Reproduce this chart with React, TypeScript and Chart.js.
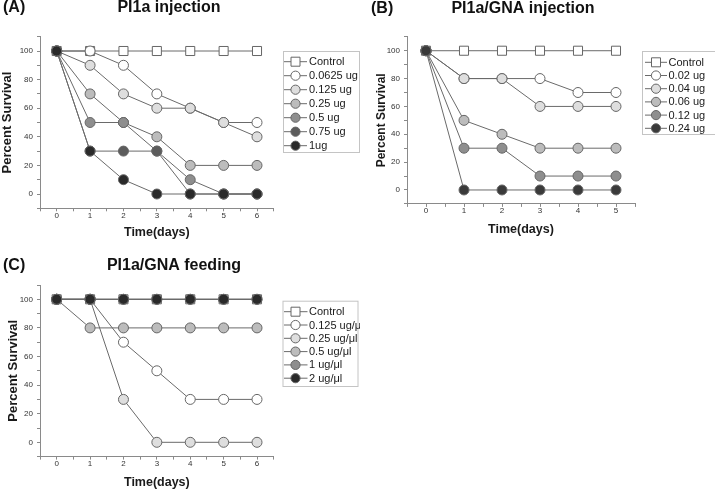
import React, { useEffect, useRef } from 'react';
import { Chart, registerables } from 'chart.js';

Chart.register(...registerables);
Chart.defaults.font.family = '"Liberation Sans", Arial, sans-serif';

// ---------- DATA ----------
// Panel A: PI1a injection
const daysA = [0, 1, 2, 3, 4, 5, 6];
const namesA = ['Control', '0.0625 ug', '0.125 ug', '0.25 ug', '0.5 ug', '0.75 ug', '1ug'];
const aControl = [100, 100, 100, 100, 100, 100, 100];
const a00625 = [100, 100, 90, 70, 60, 50, 50];
const a0125 = [100, 90, 70, 60, 60, 50, 40];
const a025 = [100, 70, 50, 40, 20, 20, 20];
const a05 = [100, 50, 50, 30, 10, 0, 0];
const a075 = [100, 30, 30, 30, 0, 0, 0];
const a1 = [100, 30, 10, 0, 0, 0, 0];

// Panel B: PI1a/GNA injection
const daysB = [0, 1, 2, 3, 4, 5];
const namesB = ['Control', '0.02 ug', '0.04 ug', '0.06 ug', '0.12 ug', '0.24 ug'];
const bControl = [100, 100, 100, 100, 100, 100];
const b002 = [100, 80, 80, 80, 70, 70];
const b004 = [100, 80, 80, 60, 60, 60];
const b006 = [100, 50, 40, 30, 30, 30];
const b012 = [100, 30, 30, 10, 10, 10];
const b024 = [100, 0, 0, 0, 0, 0];

// Panel C: PI1a/GNA feeding
const daysC = [0, 1, 2, 3, 4, 5, 6];
const namesC = ['Control', '0.125 ug/μl', '0.25 ug/μl', '0.5 ug/μl', '1 ug/μl', '2 ug/μl'];
const cControl = [100, 100, 100, 100, 100, 100, 100];
const c0125 = [100, 100, 70, 50, 30, 30, 30];
const c025 = [100, 100, 30, 0, 0, 0, 0];
const c05 = [100, 80, 80, 80, 80, 80, 80];
const c1 = [100, 100, 100, 100, 100, 100, 100];
const c2 = [100, 100, 100, 100, 100, 100, 100];

const yTickLabels = [0, 20, 40, 60, 80, 100];
const xTickLabelsA = [0, 1, 2, 3, 4, 5, 6];
const xTickLabelsB = [0, 1, 2, 3, 4, 5];
const yAxisTitle = 'Percent Survival';
const xAxisTitle = 'Time(days)';

// ---------- STYLES ----------
const fillsA = ['#ffffff', '#ffffff', '#dedede', '#bcbcbc', '#8e8e8e', '#5c5c5c', '#2a2a2a'];
const fillsB = ['#ffffff', '#ffffff', '#dedede', '#bcbcbc', '#8e8e8e', '#3a3a3a'];
const fillsC = ['#ffffff', '#ffffff', '#dedede', '#bcbcbc', '#8e8e8e', '#2a2a2a'];
const LINE = '#6a6a6a';
const AXIS = '#8a8a8a';

const decoPlugin = {
  id: 'deco',
  afterDraw(chart: any, _args: any, o: any) {
    const ctx = chart.ctx;
    ctx.save();
    ctx.fillStyle = '#111';
    ctx.font = 'bold 16px "Liberation Sans", Arial, sans-serif';
    ctx.textBaseline = 'middle';
    ctx.textAlign = 'left';
    ctx.fillText(o.letter, o.letterX, o.titleY);
    ctx.textAlign = 'center';
    ctx.fillText(o.title, o.titleX, o.titleY);
    const L = o.legend;
    ctx.strokeStyle = '#c4c4c4';
    ctx.lineWidth = 1;
    ctx.strokeRect(L.x + 0.5, L.y + 0.5, L.w, L.h);
    chart.data.datasets.forEach((ds: any, i: number) => {
      const y = L.row0 + i * L.step;
      ctx.strokeStyle = LINE;
      ctx.beginPath();
      ctx.moveTo(L.lineX0, y);
      ctx.lineTo(L.lineX1, y);
      ctx.stroke();
      ctx.fillStyle = ds.pointBackgroundColor;
      ctx.strokeStyle = '#666';
      ctx.beginPath();
      if (ds.pointStyle === 'rect') ctx.rect(L.markX - 4.5, y - 4.5, 9, 9);
      else ctx.arc(L.markX, y, 4.6, 0, Math.PI * 2);
      ctx.fill();
      ctx.stroke();
      ctx.fillStyle = '#1a1a1a';
      ctx.font = '11px "Liberation Sans", Arial, sans-serif';
      ctx.textAlign = 'left';
      ctx.fillText(ds.label, L.textX, y + 0.5);
    });
    ctx.restore();
  },
};

type PanelCfg = {
  left: number; top: number; w: number; h: number;
  days: number[]; names: string[]; series: number[][]; fills: string[];
  xTicks: number[];
  xMax: number;
  padTop: number; padRight: number;
  yAxisW: number; xAxisH: number;
  yTitleSize: number; yTitlePad: number;
  xTitleSize: number; xTitlePad: number;
  deco: any;
};

const panels: PanelCfg[] = [
  {
    left: 0, top: 0, w: 360, h: 245,
    days: daysA, names: namesA, series: [aControl, a00625, a0125, a025, a05, a075, a1], fills: fillsA,
    xTicks: xTickLabelsA, xMax: 6.5,
    padTop: 36.7, padRight: 86.3, yAxisW: 40, xAxisH: 36.7,
    yTitleSize: 13, yTitlePad: 1.2, xTitleSize: 12.5, xTitlePad: 5.75,
    deco: {
      letter: '(A)', letterX: 3, title: 'PI1a injection', titleX: 169, titleY: 8,
      legend: { x: 283, y: 51, w: 76, h: 101, row0: 61.7, step: 14, lineX0: 284, lineX1: 307, markX: 295.5, textX: 309 },
    },
  },
  {
    left: 360, top: 0, w: 355, h: 245,
    days: daysB, names: namesB, series: [bControl, b002, b004, b006, b012, b024], fills: fillsB,
    xTicks: xTickLabelsB, xMax: 5.5,
    padTop: 36.8, padRight: 80, yAxisW: 47, xAxisH: 41.1,
    yTitleSize: 12, yTitlePad: 15.7, xTitleSize: 12.5, xTitlePad: 8.75,
    deco: {
      letter: '(B)', letterX: 11, title: 'PI1a/GNA injection', titleX: 163, titleY: 9,
      legend: { x: 282, y: 51, w: 74, h: 83, row0: 62.3, step: 13.2, lineX0: 285, lineX1: 307, markX: 296, textX: 308.5 },
    },
  },
  {
    left: 0, top: 245, w: 360, h: 247,
    days: daysC, names: namesC, series: [cControl, c0125, c025, c05, c1, c2], fills: fillsC,
    xTicks: xTickLabelsA, xMax: 6.5,
    padTop: 40, padRight: 86.3, yAxisW: 40, xAxisH: 35.4,
    yTitleSize: 13, yTitlePad: 6.8, xTitleSize: 12.5, xTitlePad: 2.75,
    deco: {
      letter: '(C)', letterX: 3, title: 'PI1a/GNA feeding', titleX: 174, titleY: 21,
      legend: { x: 282.5, y: 55.7, w: 75, h: 85.3, row0: 66.7, step: 13.3, lineX0: 284, lineX1: 307.5, markX: 295.5, textX: 309 },
    },
  },
];

function Panel({ cfg }: { cfg: PanelCfg }) {
  const ref = useRef<HTMLCanvasElement>(null);
  useEffect(() => {
    if (!ref.current) return;
    const n = cfg.series.length;
    const datasets = cfg.series.map((vals, i) => ({
      label: cfg.names[i],
      data: vals.map((v, j) => ({ x: cfg.days[j], y: v })),
      borderColor: LINE,
      borderWidth: 1,
      tension: 0,
      pointStyle: i === 0 ? 'rect' : 'circle',
      pointRadius: i === 0 ? 6.4 : 5,
      pointBackgroundColor: cfg.fills[i],
      pointBorderColor: '#666',
      pointBorderWidth: 1,
      order: n - i,
      clip: false as any,
    }));
    const chart = new Chart(ref.current, {
      type: 'line',
      data: { datasets: datasets as any },
      plugins: [decoPlugin as any],
      options: {
        animation: false,
        responsive: false,
        events: [],
        layout: { padding: { top: cfg.padTop, right: cfg.padRight, left: 0, bottom: 0 } },
        plugins: {
          legend: { display: false },
          tooltip: { enabled: false },
          title: { display: false },
          deco: cfg.deco,
        } as any,
        scales: {
          x: {
            type: 'linear',
            min: -0.5,
            max: cfg.xMax,
            afterFit: (s: any) => { s.height = cfg.xAxisH; },
            border: { display: true, color: AXIS, width: 1 },
            grid: { display: true, drawOnChartArea: false, drawTicks: true, tickLength: 3, tickColor: AXIS },
            ticks: {
              stepSize: 0.5,
              autoSkip: false,
              maxRotation: 0,
              padding: 0,
              color: '#333',
              font: { size: 8, lineHeight: 1 },
              callback: (v: any) => (cfg.xTicks.includes(Number(v)) ? String(v) : ''),
            },
            title: {
              display: true,
              text: xAxisTitle,
              color: '#1a1a1a',
              font: { size: cfg.xTitleSize, weight: 'bold', lineHeight: 1 },
              padding: { top: 0, bottom: cfg.xTitlePad },
            },
          },
          y: {
            type: 'linear',
            min: -10,
            max: 110,
            afterFit: (s: any) => { s.width = cfg.yAxisW; },
            border: { display: true, color: AXIS, width: 1 },
            grid: { display: true, drawOnChartArea: false, drawTicks: true, tickLength: 3, tickColor: AXIS },
            ticks: {
              stepSize: 10,
              autoSkip: false,
              padding: 4,
              color: '#333',
              font: { size: 8, lineHeight: 1 },
              callback: (v: any) => (yTickLabels.includes(Number(v)) ? String(v) : ''),
            },
            title: {
              display: true,
              text: yAxisTitle,
              color: '#1a1a1a',
              font: { size: cfg.yTitleSize, weight: 'bold', lineHeight: 1 },
              padding: { top: cfg.yTitlePad, bottom: 0 },
            },
          },
        },
      } as any,
    });
    return () => chart.destroy();
  }, [cfg]);
  return (
    <canvas
      ref={ref}
      width={cfg.w}
      height={cfg.h}
      style={{ position: 'absolute', left: cfg.left, top: cfg.top, width: cfg.w, height: cfg.h }}
    />
  );
}

export default function App() {
  return (
    <div style={{ position: 'absolute', left: 0, top: 0, width: 715, height: 492, background: '#fff', overflow: 'hidden' }}>
      {panels.map((p, i) => (
        <Panel key={i} cfg={p} />
      ))}
    </div>
  );
}
